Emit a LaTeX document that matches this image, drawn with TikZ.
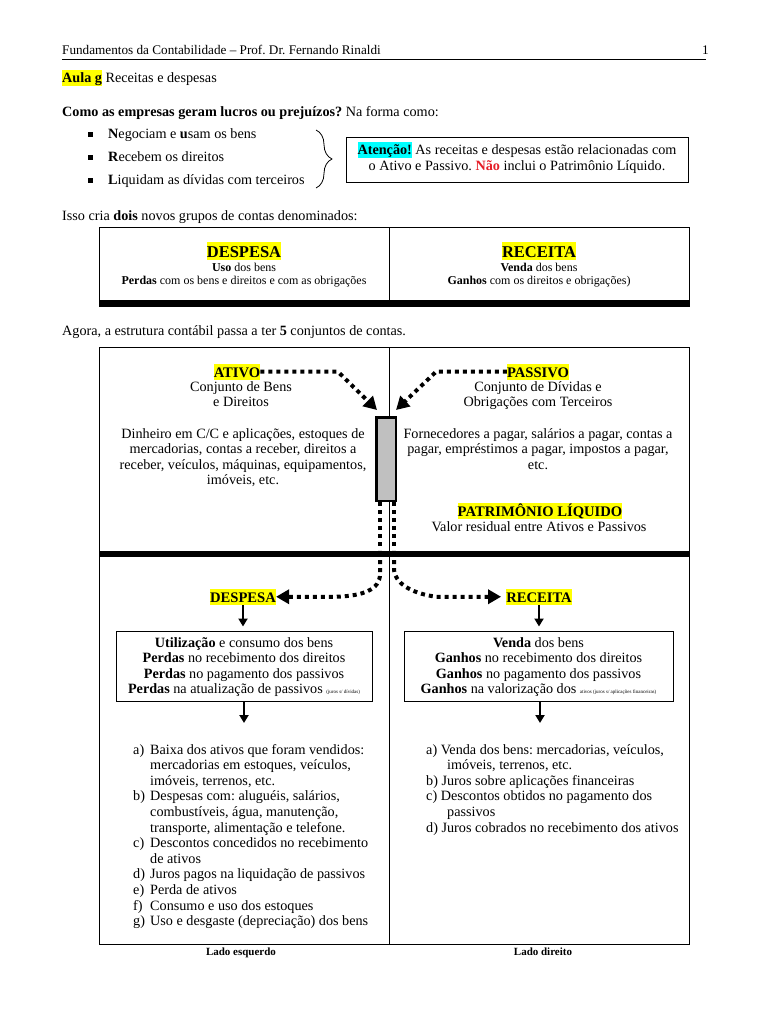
\documentclass[tikz,border=0pt]{standalone}
\usepackage{fontspec}
\setmainfont{Liberation Serif}
\usetikzlibrary{arrows.meta,decorations.pathreplacing}
\definecolor{hlyellow}{RGB}{255,255,0}
\definecolor{hlcyan}{RGB}{0,255,255}
\definecolor{naored}{RGB}{230,30,40}
\definecolor{rectgray}{RGB}{192,192,192}
\newcommand{\hlbox}[2]{{\setlength{\fboxsep}{0pt}\colorbox{#1}{\rule[-0.2em]{0pt}{1.12em}#2}}}
\newcommand{\mltext}[2][c]{\begin{tabular}[t]{@{}#1@{}}#2\end{tabular}}
\newcommand{\fsz}[2]{\fontsize{#1}{#2}\selectfont}
\newcommand{\lbl}[1]{\makebox[17pt][l]{#1}}
\frenchspacing
\begin{document}
\begin{tikzpicture}[x=1pt,y=-1pt,
  txt/.style={inner sep=0pt, anchor=base, font=\fsz{14.2}{15.6}},
  txtl/.style={txt, anchor=base west},
  head/.style={txt, font=\fsz{14.6}{15.6}\bfseries},
  dotarrow/.style={line width=4pt, dash pattern=on 4pt off 4pt, -{Triangle[length=13pt,width=14pt]}},
  dotline/.style={line width=4pt, dash pattern=on 4pt off 4pt},
  solidarrow/.style={line width=2pt, -{Triangle[length=8pt,width=9pt]}},
  frame/.style={draw, line width=1pt},
  boxnode/.style={draw, line width=1pt, inner sep=0pt}]
\fill[white] (0,0) rectangle (768,1024);
\useasboundingbox (0,0) rectangle (768,1024);

% header
\node[txtl, font=\fsz{13.2}{14}] (hdr) at (62,55) {Fundamentos da Contabilidade – Prof. Dr. Fernando Rinaldi};
\node[txt, anchor=base east, font=\fsz{13.2}{14}] (pg) at (709,55) {1};
\draw[line width=0.8pt] (62,59.5) -- (706,59.5);

\node[txtl] (aula) at (62,83) {\hlbox{hlyellow}{\textbf{Aula g}} Receitas e despesas};
\node[txtl] (como) at (62,117) {\textbf{Como as empresas geram lucros ou prejuízos?} Na forma como:};

% bullets
\node[fill, minimum size=5pt, inner sep=0pt] (sq1) at (90.5,134.5) {};
\node[fill, minimum size=5pt, inner sep=0pt] (sq2) at (90.5,157.5) {};
\node[fill, minimum size=5pt, inner sep=0pt] (sq3) at (90.5,180.5) {};
\node[txtl] (b1) at (108,139) {\textbf{N}egociam e \textbf{u}sam os bens};
\node[txtl] (b2) at (108,162) {\textbf{R}ecebem os direitos};
\node[txtl] (b3) at (108,185) {\textbf{L}iquidam as dívidas com terceiros};
\draw[line width=0.8pt, decorate, decoration={brace, amplitude=16pt}] (316,130) -- (316,188);

\node[boxnode, minimum width=342pt, minimum height=45pt] (aten) at (517,160.5) {};
\node[txt] (atent) at (517,155) {\mltext{\hlbox{hlcyan}{\textbf{Atenção!}} As receitas e despesas estão relacionadas com\\o Ativo e Passivo. \textcolor{naored}{\textbf{Não}} inclui o Patrimônio Líquido.}};

\node[txtl] (isso) at (62,221) {Isso cria \textbf{dois} novos grupos de contas denominados:};

% box 2
\draw[frame] (99,228) rectangle (689,306);
\fill (99,300) rectangle (689,306);
\draw[line width=1pt] (389,228) -- (389,300);
\node[txt, font=\fsz{16.5}{18}\bfseries] (d1) at (244,257) {\hlbox{hlyellow}{DESPESA}};
\node[txt, font=\fsz{12}{13}] (d1t) at (244,271) {\mltext{\textbf{Uso} dos bens\\\textbf{Perdas} com os bens e direitos e com as obrigações}};
\node[txt, font=\fsz{16.5}{18}\bfseries] (r1) at (539,257) {\hlbox{hlyellow}{RECEITA}};
\node[txt, font=\fsz{12}{13}] (r1t) at (539,271) {\mltext{\textbf{Venda} dos bens\\\textbf{Ganhos} com os direitos e obrigações)}};

\node[txtl] (agora) at (62,335) {Agora, a estrutura contábil passa a ter \textbf{5} conjuntos de contas.};

% big box
\draw[frame] (99,347) rectangle (689,944);
\draw[line width=1pt] (389,347) -- (389,944);
\fill (99,551) rectangle (689,557);

\node[head] (ativo) at (237,377) {\hlbox{hlyellow}{ATIVO}};
\node[txt] (ativot) at (241,391) {\mltext{Conjunto de Bens\\e Direitos}};
\node[head] (passivo) at (538,377) {\hlbox{hlyellow}{PASSIVO}};
\node[txt] (passivot) at (538,391) {\mltext{Conjunto de Dívidas e\\Obrigações com Terceiros}};
\node[txt] (ativod) at (243,438) {\mltext{Dinheiro em C/C e aplicações, estoques de\\mercadorias, contas a receber, direitos a\\receber, veículos, máquinas, equipamentos,\\imóveis, etc.}};
\node[txt] (passivod) at (538,438) {\mltext{Fornecedores a pagar, salários a pagar, contas a\\pagar, empréstimos a pagar, impostos a pagar,\\etc.}};
\node[head] (pl) at (540,516) {\hlbox{hlyellow}{PATRIMÔNIO LÍQUIDO}};
\node[txt] (plt) at (539,531) {Valor residual entre Ativos e Passivos};

\node[draw, line width=2.5pt, fill=rectgray, minimum width=19.5pt, minimum height=83.5pt, inner sep=0pt] (prect) at (386,459) {};

\coordinate (abend) at (338,372);
\coordinate (atip) at (377,410);
\coordinate (pbend) at (436,372);
\coordinate (ptip) at (396,410);
\draw[dotarrow] (ativo.east) -- (ativo.east -| abend) -- (atip);
\draw[dotarrow] (passivo.west) -- (passivo.west -| pbend) -- (ptip);

\draw[dotline] ([xshift=-6pt]prect.south) -- (380,550);
\draw[dotline] ([xshift=8pt]prect.south) -- (394,550);

\node[head] (despesa) at (243,602) {\hlbox{hlyellow}{DESPESA}};
\node[head] (receita) at (539,602) {\hlbox{hlyellow}{RECEITA}};
\coordinate (lc) at (336,0);
\coordinate (rc) at (436,0);
\draw[dotarrow] (380,560) -- (380,574) .. controls (380,590) and (362,596) .. (lc |- despesa.east) -- (despesa.east);
\draw[dotarrow] (394,560) -- (394,570) .. controls (396,586) and (416,594) .. (rc |- receita.west) -- ([xshift=-5pt]receita.west);

\node[boxnode, minimum width=256pt, minimum height=70pt] (dbox) at (244,666) {};
\node[boxnode, minimum width=269pt, minimum height=70pt] (rbox) at (538.5,666) {};
\node[txt] (dboxt) at (244,647) {\mltext{\textbf{Utilização} e consumo dos bens\\\textbf{Perdas} no recebimento dos direitos\\\textbf{Perdas} no pagamento dos passivos\\\textbf{Perdas} na atualização de passivos {\fsz{5}{6}(juros s/ dívidas)}}};
\node[txt] (rboxt) at (538.5,647) {\mltext{\textbf{Venda} dos bens\\\textbf{Ganhos} no recebimento dos direitos\\\textbf{Ganhos} no pagamento dos passivos\\\textbf{Ganhos} na valorização dos {\fsz{5}{6}ativos (juros s/ aplicações financeiras)}}};

\draw[solidarrow, shorten >=4pt] (despesa.south) -- (dbox.north -| despesa.south);
\draw[solidarrow, shorten >=4pt] (receita.south) -- (rbox.north -| receita.south);
\coordinate (dend) at (244,723);
\coordinate (rend) at (540,723);
\draw[solidarrow] (dbox.south) -- (dend);
\draw[solidarrow] (rbox.south -| rend) -- (rend);

\node[txtl] (llist) at (133,754) {\mltext[l]{\lbl{a)}Baixa dos ativos que foram vendidos:\\\lbl{}mercadorias em estoques, veículos,\\\lbl{}imóveis, terrenos, etc.\\\lbl{b)}Despesas com: aluguéis, salários,\\\lbl{}combustíveis, água, manutenção,\\\lbl{}transporte, alimentação e telefone.\\\lbl{c)}Descontos concedidos no recebimento\\\lbl{}de ativos\\\lbl{d)}Juros pagos na liquidação de passivos\\\lbl{e)}Perda de ativos\\\lbl{f)}Consumo e uso dos estoques\\\lbl{g)}Uso e desgaste (depreciação) dos bens}};
\node[txtl] (rlist) at (426,754) {\mltext[l]{a) Venda dos bens: mercadorias, veículos,\\\hspace*{21pt}imóveis, terrenos, etc.\\b) Juros sobre aplicações financeiras\\c) Descontos obtidos no pagamento dos\\\hspace*{21pt}passivos\\d) Juros cobrados no recebimento dos ativos}};

\node[txt, font=\fsz{11}{12}\bfseries] (lesq) at (241,955) {Lado esquerdo};
\node[txt, font=\fsz{11}{12}\bfseries] (ldir) at (543,955) {Lado direito};
\end{tikzpicture}
\end{document}
